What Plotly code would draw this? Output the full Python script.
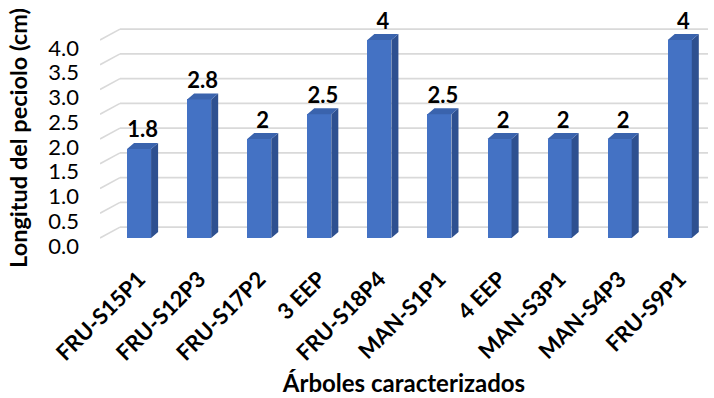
import plotly.graph_objects as go

# Petiole length per characterised tree
arboles = ["FRU-S15P1", "FRU-S12P3", "FRU-S17P2", "3 EEP", "FRU-S18P4",
           "MAN-S1P1", "4 EEP", "MAN-S3P1", "MAN-S4P3", "FRU-S9P1"]
longitud = [1.8, 2.8, 2, 2.5, 4, 2.5, 2, 2, 2, 4]
y_ticks = [0, 0.5, 1, 1.5, 2, 2.5, 3, 3.5, 4]

FRONT = "#4472C4"
SIDE = "#2E5090"
TOP = "#3A63AD"
GRID = "#D9D9D9"

# pseudo-3D geometry (data units)
BAR_W = 0.4
DEPTH_X = 0.117   # bar depth, horizontal component
DEPTH_Y = 0.12    # bar depth, vertical component
X_MIN, X_MAX = -0.65, 9.47
WALL_DX, WALL_DY = 0.333, 0.22

xs = list(range(len(arboles)))
fig = go.Figure()

# back wall gridlines with slanted side-wall segment, kept beneath the bars
shapes = []
for t in y_ticks:
    for x0, y0, x1, y1 in [(X_MIN, t, X_MIN + WALL_DX, t + WALL_DY),
                           (X_MIN + WALL_DX, t + WALL_DY, X_MAX, t + WALL_DY)]:
        shapes.append(dict(type="line", xref="x", yref="y", layer="below",
                           x0=x0, y0=y0, x1=x1, y1=y1,
                           line=dict(color=GRID, width=1.6)))

# front faces
fig.add_trace(go.Bar(x=xs, y=longitud, width=BAR_W,
                     marker=dict(color=FRONT, line=dict(width=0)),
                     hoverinfo="skip", showlegend=False))

# side faces
sx, sy = [], []
for x, v in zip(xs, longitud):
    r = x + BAR_W / 2
    sx += [r, r + DEPTH_X, r + DEPTH_X, r, r, None]
    sy += [0, DEPTH_Y, v + DEPTH_Y, v, 0, None]
fig.add_trace(go.Scatter(x=sx, y=sy, mode="lines", fill="toself",
                         fillcolor=SIDE, line=dict(width=0, color=SIDE),
                         hoverinfo="skip", showlegend=False))

# top faces
tx, ty = [], []
for x, v in zip(xs, longitud):
    l, r = x - BAR_W / 2, x + BAR_W / 2
    tx += [l, l + DEPTH_X, r + DEPTH_X, r, l, None]
    ty += [v, v + DEPTH_Y, v + DEPTH_Y, v, v, None]
fig.add_trace(go.Scatter(x=tx, y=ty, mode="lines", fill="toself",
                         fillcolor=TOP, line=dict(width=0, color=TOP),
                         hoverinfo="skip", showlegend=False))

# value labels
fig.add_trace(go.Scatter(
    x=[x + DEPTH_X / 2 for x in xs], y=[v + DEPTH_Y for v in longitud],
    mode="text", text=[f"{v:g}" for v in longitud],
    textposition="top center", cliponaxis=False,
    textfont=dict(family="Lato", size=22, color="black", weight="bold"),
    hoverinfo="skip", showlegend=False))

fig.update_layout(
    width=714, height=398,
    margin=dict(l=100, r=6, t=22, b=158),
    plot_bgcolor="white", paper_bgcolor="white",
    font=dict(family="Lato", color="black"),
    bargap=0,
    shapes=shapes,
    annotations=[dict(
        text="Longitud del peciolo (cm)", textangle=-90,
        xref="paper", yref="paper", x=-0.135, y=0.468,
        xanchor="center", yanchor="middle", showarrow=False,
        font=dict(family="Lato", size=23.5, color="black", weight="bold"),
    )],
    xaxis=dict(
        range=[X_MIN, X_MAX], tickmode="array", tickvals=xs, ticktext=arboles,
        tickangle=-45, showgrid=False, zeroline=False, showline=False,
        ticks="", ticklabelstandoff=21,
        tickfont=dict(family="Lato", size=22, color="black", weight="bold"),
        title=dict(text="Árboles caracterizados", standoff=10,
                   font=dict(family="Lato", size=24, color="black", weight="bold")),
    ),
    yaxis=dict(
        range=[-0.0404, 4.364], tickmode="array", tickvals=y_ticks,
        ticktext=[f"{t:.1f}" for t in y_ticks],
        showgrid=False, zeroline=False, showline=False, ticks="",
        ticklabelstandoff=20, ticklabelshift=8,
        tickfont=dict(family="Lato", size=22, color="black"),
    ),
)

fig.write_html("out.html")
